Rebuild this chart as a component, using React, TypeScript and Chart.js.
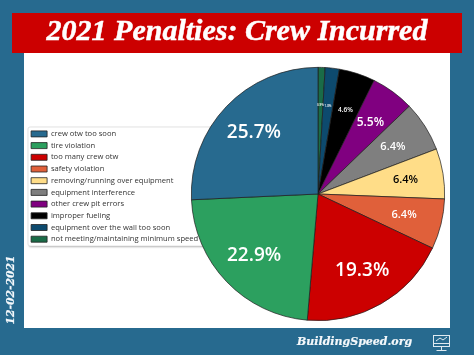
import React, { useEffect, useRef } from "react";
import { Chart, registerables } from "chart.js";

Chart.register(...registerables);

const titleText = "2021 Penalties: Crew Incurred";
const dateText = "12-02-2021";
const siteText = "BuildingSpeed.org";
const categories = [
  "crew otw too soon",
  "tire violation",
  "too many crew otw",
  "safety violation",
  "removing/running over equipment",
  "equipment interference",
  "other crew pit errors",
  "improper fueling",
  "equipment over the wall too soon",
  "not meeting/maintaining minimum speed",
];
const percents = [25.7, 22.9, 19.3, 6.4, 6.4, 6.4, 5.5, 4.6, 1.8, 0.9];
const colors = ["#276a8f", "#2ca05f", "#cc0000", "#e0603a", "#ffdd88", "#7f7f7f", "#800080", "#000000", "#0d4a6e", "#1a6b47"];
const labelSizes = [19, 19, 19, 11, 11, 11, 12, 6.5, 3, 3];
const labelColors = ["#fff", "#fff", "#fff", "#fff", "#000", "#fff", "#fff", "#fff", "#fff", "#fff"];

const rev = <T,>(a: T[]) => a.slice().reverse();

const framePlugin = {
  id: "frame",
  afterLayout(chart: any) {
    const t = chart.titleBlock;
    t.left = 0; t.right = 474; t.width = 474;
    const l = chart.legend;
    l.left = 27; l.top = 126; l.right = 27 + l.width; l.bottom = 126 + l.height + 6;
  },
  beforeDraw(chart: any) {
    const c = chart.ctx;
    c.save();
    c.fillStyle = "#276a8f";
    c.fillRect(0, 0, 474, 355);
    c.fillStyle = "#ffffff";
    c.fillRect(24, 53, 426, 275);
    c.fillStyle = "#cc0000";
    c.fillRect(12, 13, 450, 40);
    c.shadowColor = "rgba(0,0,0,0.35)";
    c.shadowBlur = 2;
    c.shadowOffsetX = 1;
    c.shadowOffsetY = 1;
    c.fillStyle = "#ffffff";
    c.beginPath();
    c.roundRect(28, 127, 190, 119, 2);
    c.fill();
    c.shadowColor = "transparent";
    c.strokeStyle = "#dddddd";
    c.lineWidth = 0.8;
    c.stroke();
    c.restore();
  },
  afterDraw(chart: any) {
    const c = chart.ctx;
    c.save();
    c.fillStyle = "#f4f8fb";
    c.strokeStyle = "#f4f8fb";
    c.textBaseline = "middle";
    c.lineWidth = 0.2;
    c.font = "italic bold 11px 'DejaVu Serif'";
    c.textAlign = "left";
    c.fillText(siteText, 297, 342);
    c.strokeText(siteText, 297, 342);
    c.save();
    c.translate(11, 290);
    c.rotate(-Math.PI / 2);
    c.textAlign = "center";
    c.font = "italic bold 10.8px 'DejaVu Serif'";
    c.fillText(dateText, 0, 0);
    c.strokeText(dateText, 0, 0);
    c.restore();
    // thicken the title, whose face is a heavy display serif in the reference
    c.font = "italic bold 30px 'Liberation Serif'";
    c.textAlign = "center";
    c.strokeStyle = "#ffffff";
    c.lineWidth = 0.5;
    c.strokeText(titleText, 237, chart.titleBlock.top + 14 + 18);
    // monitor icon
    c.strokeStyle = "#dfeaf1";
    c.lineWidth = 1;
    c.strokeRect(433.5, 335.5, 16, 11);
    c.beginPath();
    c.moveTo(433.5, 343.5); c.lineTo(449.5, 343.5);
    c.moveTo(441.5, 346.5); c.lineTo(441.5, 350.5);
    c.moveTo(436.5, 350.5); c.lineTo(446.5, 350.5);
    c.moveTo(436, 341); c.lineTo(440, 338); c.lineTo(443, 340); c.lineTo(447, 337);
    c.stroke();
    c.restore();
  },
};

const pctLabels = {
  id: "pctLabels",
  afterDatasetsDraw(chart: any) {
    const c = chart.ctx;
    const arcs = chart.getDatasetMeta(0).data;
    const vals = chart.data.datasets[0].data;
    const sizes = rev(labelSizes);
    const cols = rev(labelColors);
    c.save();
    c.textAlign = "center";
    c.textBaseline = "middle";
    arcs.forEach((a: any, i: number) => {
      const mid = (a.startAngle + a.endAngle) / 2;
      const r = a.outerRadius * 0.7;
      c.font = `600 ${sizes[i]}px 'Open Sans'`;
      c.fillStyle = cols[i];
      c.fillText(`${vals[i].toFixed(1)}%`, a.x + Math.cos(mid) * r, a.y + Math.sin(mid) * r);
    });
    c.restore();
  },
};

export default function App() {
  const ref = useRef<HTMLCanvasElement>(null);
  useEffect(() => {
    const chart = new Chart(ref.current as HTMLCanvasElement, {
      type: "pie",
      data: {
        labels: rev(categories),
        datasets: [{
          data: rev(percents),
          backgroundColor: rev(colors),
          borderColor: "#1c1c1c",
          borderWidth: 0.7,
        }],
      },
      options: {
        responsive: false,
        animation: false,
        layout: { padding: { left: 190, right: 28, top: 0, bottom: 34 } },
        plugins: {
          tooltip: { enabled: false },
          title: {
            display: true,
            text: titleText,
            color: "#ffffff",
            font: { family: "'Liberation Serif'", size: 30, weight: "bold", style: "italic" },
            padding: { top: 14, bottom: 17 },
          },
          legend: {
            position: "chartArea",
            align: "start",
            reverse: true,
            labels: {
              boxWidth: 16,
              boxHeight: 6,
              padding: 4.1,
              color: "#333333",
              font: { family: "'Open Sans'", size: 7.6 },
              generateLabels(ch: any) {
                const items = Chart.overrides.pie.plugins.legend.labels.generateLabels(ch);
                items.forEach((it: any) => { it.lineWidth = 0.8; it.strokeStyle = "#222222"; });
                return items;
              },
            },
          },
        },
      } as any,
      plugins: [framePlugin, pctLabels],
    });
    return () => chart.destroy();
  }, []);
  return (
    <div style={{ position: "absolute", left: 0, top: 0, width: 474, height: 355 }}>
      <canvas ref={ref} width={474} height={355} style={{ display: "block" }} />
    </div>
  );
}
